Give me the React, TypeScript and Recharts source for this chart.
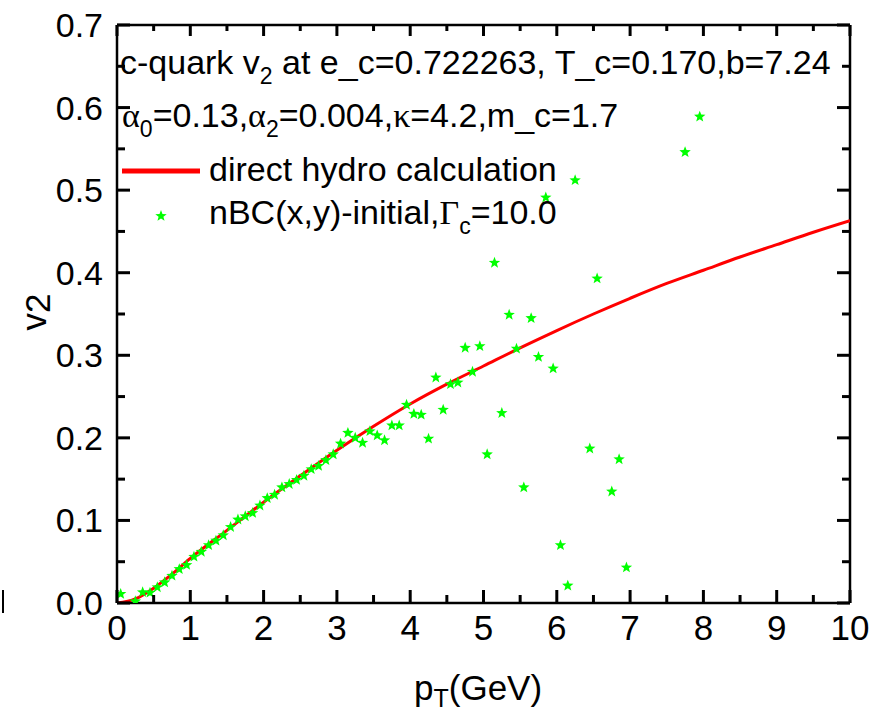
import React from "react";
import { ComposedChart, Line, ReferenceLine, Scatter, XAxis, YAxis } from "recharts";

// nBC(x,y)-initial points
const scatterPt = [
  0.05, 0.25, 0.35, 0.45, 0.55, 0.65, 0.75, 0.85, 0.95, 1.05, 1.15, 1.25, 1.35, 1.45, 1.55, 1.65, 1.75, 1.85,
  1.95, 2.05, 2.15, 2.25, 2.35, 2.45, 2.55, 2.65, 2.75, 2.85, 2.95, 3.05, 3.15, 3.25, 3.35, 3.45, 3.55, 3.65,
  3.75, 3.85, 3.95, 4.05, 4.15, 4.25, 4.35, 4.45, 4.55, 4.65, 4.75, 4.85, 4.95, 5.05, 5.15, 5.25, 5.35, 5.45,
  5.55, 5.65, 5.75, 5.85, 5.95, 6.05, 6.15, 6.25, 6.45, 6.55, 6.75, 6.85, 6.95, 7.75, 7.95,
];
const scatterV2 = [
  0.011, 0.002, 0.013, 0.0125, 0.019, 0.025, 0.033, 0.041, 0.046, 0.056, 0.062, 0.07, 0.0755, 0.082, 0.092,
  0.101, 0.105, 0.109, 0.118, 0.127, 0.131, 0.14, 0.144, 0.149, 0.154, 0.162, 0.166, 0.173, 0.18, 0.193, 0.206,
  0.2, 0.194, 0.208, 0.203, 0.197, 0.215, 0.215, 0.24, 0.229, 0.228, 0.199, 0.273, 0.234, 0.265, 0.267, 0.309,
  0.28, 0.311, 0.18, 0.412, 0.23, 0.349, 0.308, 0.14, 0.345, 0.298, 0.491, 0.284, 0.07, 0.021, 0.512, 0.187,
  0.393, 0.135, 0.174, 0.043, 0.546, 0.589,
];

// direct hydro calculation
const hydroPt = [0, 0.25, 0.5, 0.75, 1, 1.5, 2, 2.5, 3, 3.5, 4, 4.5, 5, 5.5, 6, 6.5, 7, 7.5, 8, 8.5, 9, 9.5, 10];
const hydroV2 = [
  0, 0.005, 0.018, 0.035, 0.054, 0.088, 0.122, 0.154, 0.185, 0.214, 0.241, 0.265, 0.287, 0.309, 0.33, 0.35,
  0.369, 0.387, 0.403, 0.419, 0.434, 0.449, 0.463,
];

const xTicks = [0, 0.5, 1, 1.5, 2, 2.5, 3, 3.5, 4, 4.5, 5, 5.5, 6, 6.5, 7, 7.5, 8, 8.5, 9, 9.5, 10];
const yTicks = [0, 0.05, 0.1, 0.15, 0.2, 0.25, 0.3, 0.35, 0.4, 0.45, 0.5, 0.55, 0.6, 0.65, 0.7];

const scatterData = scatterPt.map((x, i) => ({ x, y: scatterV2[i] }));
const hydroData = hydroPt.map((x, i) => ({ x, y: hydroV2[i] }));

const FONT = "'Liberation Sans', Arial, sans-serif";
const SYM = "'Liberation Serif', serif";
const X_MAX = 10;
const Y_MAX = 0.7;
// pixel -> data unit, used only for tick lengths on the top/right frame
const PX_X = 10 / 733;
const PX_Y = 0.7 / 578;

const isMajorY = (v: number) => Math.abs(v * 10 - Math.round(v * 10)) < 1e-6;

function starPath(cx: number, cy: number, r: number) {
  const pts: string[] = [];
  for (let i = 0; i < 10; i++) {
    const rr = i % 2 === 0 ? r : r * 0.42;
    const a = -Math.PI / 2 + (i * Math.PI) / 5;
    pts.push(`${cx + rr * Math.cos(a)},${cy + rr * Math.sin(a)}`);
  }
  return `M${pts.join("L")}Z`;
}

const Star = (props: any) => {
  const { cx, cy } = props;
  if (cx == null || cy == null) return null;
  return <path d={starPath(cx, cy, 6)} fill="#00ff00" />;
};

const BottomTick = (props: any) => {
  const { x, y, payload } = props;
  const v = payload.value as number;
  const major = Number.isInteger(v);
  return (
    <g>
      <line x1={x} x2={x} y1={y} y2={y - (major ? 13 : 8)} stroke="#000" strokeWidth={3} />
      {major && (
        <text x={x} y={y + 37} textAnchor="middle" fontSize={35} fontFamily={FONT} fill="#000">
          {v}
        </text>
      )}
    </g>
  );
};

const LeftTick = (props: any) => {
  const { x, y, payload } = props;
  const v = payload.value as number;
  const major = isMajorY(v);
  return (
    <g>
      <line x1={x} x2={x + (major ? 13 : 8)} y1={y} y2={y} stroke="#000" strokeWidth={3} />
      {major && (
        <text x={x - 14} y={y + 12} textAnchor="end" fontSize={34} fontFamily={FONT} fill="#000">
          {v.toFixed(1)}
        </text>
      )}
    </g>
  );
};

const topTicks = xTicks.map((v) => (
  <ReferenceLine
    key={`t${v}`}
    segment={[{ x: v, y: Y_MAX }, { x: v, y: Y_MAX - (Number.isInteger(v) ? 11 : 6) * PX_Y }]}
    stroke="#000"
    strokeWidth={3}
    ifOverflow="visible"
  />
));
const rightTicks = yTicks.map((v) => (
  <ReferenceLine
    key={`r${v}`}
    segment={[{ x: X_MAX, y: v }, { x: X_MAX - (isMajorY(v) ? 13 : 8) * PX_X, y: v }]}
    stroke="#000"
    strokeWidth={3}
    ifOverflow="visible"
  />
));

export default function App() {
  return (
    <div style={{ position: "absolute", left: 0, top: 0, width: 886, height: 712, background: "#fff" }}>
      <ComposedChart width={886} height={712} margin={{ top: 25, right: 36, bottom: 0, left: 0 }}>
        <XAxis
          type="number"
          dataKey="x"
          domain={[0, X_MAX]}
          ticks={xTicks}
          interval={0}
          height={109}
          tickSize={0}
          tickMargin={0}
          axisLine={{ stroke: "#000", strokeWidth: 2.5 }}
          tickLine={false}
          tick={<BottomTick />}
          allowDataOverflow
        />
        <YAxis
          type="number"
          domain={[0, Y_MAX]}
          ticks={yTicks}
          interval={0}
          width={117}
          tickSize={0}
          tickMargin={0}
          axisLine={{ stroke: "#000", strokeWidth: 2.5 }}
          tickLine={false}
          tick={<LeftTick />}
          allowDataOverflow
        />
        <ReferenceLine x={X_MAX} stroke="#000" strokeWidth={2.5} ifOverflow="visible" />
        <ReferenceLine y={Y_MAX} stroke="#000" strokeWidth={2.5} ifOverflow="visible" />
        {topTicks}
        {rightTicks}
        <Line
          data={hydroData}
          dataKey="y"
          type="monotone"
          stroke="#ff0000"
          strokeWidth={3}
          dot={false}
          isAnimationActive={false}
        />
        <Scatter data={scatterData} dataKey="y" shape={<Star />} isAnimationActive={false} />
      </ComposedChart>
      <svg
        width={886}
        height={712}
        style={{ position: "absolute", left: 0, top: 0, pointerEvents: "none" }}
        fontFamily={FONT}
        fill="#000"
      >
        <text x={120} y={74} fontSize={34}>
          c-quark v<tspan fontSize={23} dy={10}>2</tspan>
          <tspan dy={-10}> at e_c=0.722263, T_c=0.170,b=7.24</tspan>
        </text>
        <text x={122} y={127} fontSize={34}>
          <tspan fontFamily={SYM}>α</tspan>
          <tspan fontSize={23} dy={10}>0</tspan>
          <tspan dy={-10}>=0.13,</tspan>
          <tspan fontFamily={SYM}>α</tspan>
          <tspan fontSize={23} dy={10}>2</tspan>
          <tspan dy={-10}>=0.004,</tspan>
          <tspan fontFamily={SYM}>κ</tspan>
          <tspan>=4.2,m_c=1.7</tspan>
        </text>
        <line x1={122} x2={200} y1={171} y2={171} stroke="#ff0000" strokeWidth={5} />
        <text x={209} y={181} fontSize={34}>direct hydro calculation</text>
        <path d={starPath(161, 216, 6)} fill="#00ff00" />
        <text x={209} y={224} fontSize={34}>
          nBC(x,y)-initial,<tspan fontFamily={SYM}>Γ</tspan>
          <tspan fontSize={23} dy={10}>c</tspan>
          <tspan dy={-10}>=10.0</tspan>
        </text>
        <text x={414} y={700} fontSize={35}>
          p<tspan fontSize={25} dy={7}>T</tspan>
          <tspan dy={-7}>(GeV)</tspan>
        </text>
        <text transform="translate(46,312) rotate(-90)" textAnchor="middle" fontSize={35}>
          v<tspan dy={4}>2</tspan>
        </text>
        <line x1={3} x2={3} y1={590} y2={613} stroke="#000" strokeWidth={2} />
      </svg>
    </div>
  );
}
